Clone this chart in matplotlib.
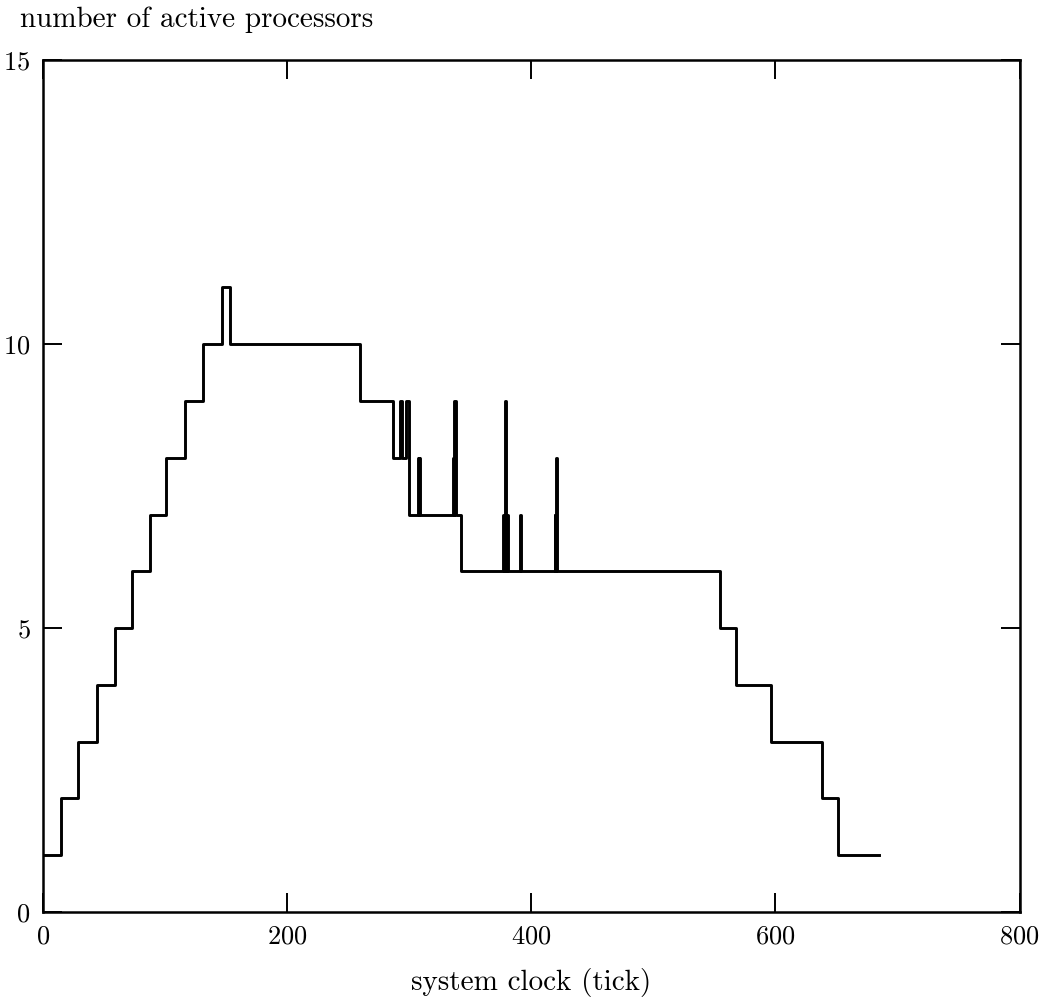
import matplotlib
matplotlib.use('Agg')
import matplotlib.pyplot as plt

# step change points (time, number of active processors), held until next change
ticks = [0, 14.5, 29, 44, 59, 72.5, 87.5, 101, 116, 131, 147, 153,
         260, 287, 292.5, 294, 297.5, 300,
         307, 307.6, 308.2, 309.2,
         335.5, 336.4, 337, 338.2, 342,
         377, 377.8, 378.4, 379.6, 380.2, 381,
         390.6, 391.6,
         419, 419.6, 420.2, 421.2,
         554.5, 568, 596, 638, 651, 685]
active = [1, 2, 3, 4, 5, 6, 7, 8, 9, 10, 11, 10,
          9, 8, 9, 8, 9, 7,
          8, 7, 8, 7,
          8, 7, 9, 7, 6,
          7, 6, 9, 6, 7, 6,
          7, 6,
          7, 6, 8, 6,
          5, 4, 3, 2, 1, 1]

xticks = [0, 200, 400, 600, 800]
yticks = [0, 5, 10, 15]

plt.rcParams['font.family'] = ['cmr10', 'DejaVu Serif']
plt.rcParams['axes.formatter.use_mathtext'] = True

fig = plt.figure(figsize=(10.49, 10.05), dpi=100)
ax = fig.add_axes([0.041, 0.0925, 0.931, 0.8475])

ax.plot(ticks, active, drawstyle='steps-post', color='black', lw=2.1)

ax.set_xlim(0, 800)
ax.set_ylim(0, 15)
ax.set_xticks(xticks)
ax.set_yticks(yticks)
ax.tick_params(direction='in', length=14, width=1.4, top=True, right=True,
               labelsize=19, pad=9)
for s in ax.spines.values():
    s.set_linewidth(1.8)

ax.set_xlabel('system clock (tick)', fontsize=21, labelpad=14)
fig.text(0.019, 0.973, 'number of active processors', fontsize=21, ha='left', va='baseline')

fig.savefig('out.png', dpi=100)
